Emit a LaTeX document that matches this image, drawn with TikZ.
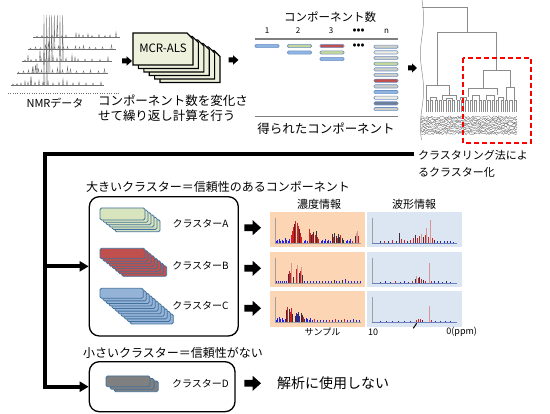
\documentclass[tikz,border=0pt]{standalone}
\usepackage{fontspec}
\setmainfont{Noto Sans CJK JP}
\usetikzlibrary{arrows.meta}
\definecolor{nmrgray}{HTML}{6F6F6F}
\definecolor{dendgray}{HTML}{8C8C8C}
\definecolor{scribgray}{HTML}{666666}
\definecolor{mcrfill}{HTML}{EEF2DC}
\definecolor{rulegray}{HTML}{7F7F7F}
\definecolor{barborder}{HTML}{6E91C4}
\definecolor{bblue}{HTML}{8DB4E2}
\definecolor{bgreen}{HTML}{C3D69B}
\definecolor{bred}{HTML}{C0504D}
\definecolor{bcream}{HTML}{EEECE1}
\definecolor{bgray}{HTML}{D0D0C8}
\definecolor{bslate}{HTML}{6F7F95}
\definecolor{cardborder}{HTML}{41719C}
\definecolor{cardA}{HTML}{D7E4BD}
\definecolor{cardB}{HTML}{C0504D}
\definecolor{cardC}{HTML}{95B3D7}
\definecolor{cardD}{HTML}{808080}
\definecolor{panelO}{HTML}{FCD5B5}
\definecolor{panelB}{HTML}{DCE6F2}
\definecolor{cr}{HTML}{D02020}
\definecolor{ck}{HTML}{3A2F3A}
\definecolor{cb}{HTML}{2020E0}
\definecolor{cp}{HTML}{D99594}
\definecolor{axisgray}{HTML}{A0A0A0}
\definecolor{baseblue}{HTML}{6C7FBF}
\definecolor{selred}{HTML}{FF0000}

\tikzset{
  txt/.style={inner sep=0pt, outer sep=0pt},
  nmr/.style={draw=nmrgray, line width=0.35pt},
  dend/.style={draw=dendgray, line width=0.5pt},
  scrib/.style={draw=scribgray, line width=0.3pt},
  compbar/.style={rounded corners=1.2pt, draw=barborder, line width=0.6pt},
  card/.style={rounded corners=1.5pt, draw=cardborder, line width=0.8pt},
  mcrcard/.style={fill=mcrfill, draw=black, line width=1.1pt},
  rulelinestyle/.style={draw=rulegray, line width=1.5pt},
  trunk/.style={line width=4pt, line join=miter},
  trunkarrow/.style={trunk, -{Triangle[length=9pt,width=10pt]}},
  roundbox/.style={draw, rounded corners=10pt, line width=1.3pt, inner sep=0pt},
  seldash/.style={draw=selred, line width=1.5pt, dash pattern=on 5pt off 3pt},
  panelaxis/.style={draw=axisgray, line width=0.5pt},
}

% block arrow: x, ycenter, stem length, stem half height, head length, head half height
\newcommand\blockarrow[6]{%
  \fill (#1,{#2-#4}) -- ({#1+#3},{#2-#4}) -- ({#1+#3},{#2-#6}) -- ({#1+#3+#5},#2)
        -- ({#1+#3},{#2+#6}) -- ({#1+#3},{#2+#4}) -- (#1,{#2+#4}) -- cycle;}
% nmr trace: x0, y0, length, peaks
\newcommand\nmrtrace[4]{%
  \draw[nmr] (#1,#2) -- ({#1+#3},#2);
  \foreach \p/\h in {#4} {\draw[nmr] ({#1+\p-0.7},#2) -- ({#1+\p},{#2-\h}) -- ({#1+\p+0.7},#2);}}
% component bar
\newcommand\cbar[3]{\draw[compbar, fill=#3] (#1,{#2-1.6}) rectangle ({#1+24},{#2+1.6});}
% card stack: x, y, w, h, last index, dx, dy, fill
\newcommand\cardstack[8]{%
  \foreach \k in {#5,...,0} {\draw[card, fill=#8] ({#1+\k*#6},{#2+\k*#7}) rectangle ++(#3,#4);}}
% chart bars: baseline, list
\newcommand\chartbars[2]{%
  \foreach \bx/\bh/\bc in {#2} {\fill[\bc] ({\bx-0.5},#1) rectangle ({\bx+0.5},{#1-\bh});}}
% mcr card
\newcommand\mcrcardshape[2]{\draw[mcrcard] (#1,#2) -- ++(54,0) -- ++(6,6) -- ++(0,26) -- ++(-60,0) -- cycle;}

\begin{document}
\begin{tikzpicture}[x=1pt,y=-1pt]
\useasboundingbox (0,0) rectangle (550,414);

%================ NMR data =================
\nmrtrace{33}{37}{87}{4/1,9/1.5,14/1,19/2,24/3,29/1.5,33/2,43/4,46/3,50/2,55/3,59/1.5,66/2.5,72/1.5,77/2,83/5}
\nmrtrace{27.5}{49}{88.5}{3/1,8/2,13/1.5,18/4,21/6,24/3,27/2,31/3,36/2,40/2.5,48/3,52/2,56/3.5,62/2,68/1.5,75/2,84/4}
\nmrtrace{22}{61}{90}{3/1,9/1.5,14/2,19/3,23/2,27/4,31/5,35/3,39/2,44/3,50/6,53/4,56/2,63/2,70/2,78/1.5,86/4}
\nmrtrace{16.5}{73}{91.5}{2/1,7/2,12/3,16/5,19/8,22/4,25/3,30/2,36/3,41/5,46/3,51/6,54/4,60/2,67/2,74/3,82/2,88/4}
\nmrtrace{11}{85}{93}{2/1,6/1.5,10/2,14/4,17/3,20/6,24/3,28/5,32/3,37/4,42/2,48/3,52/6,56/4,62/2,68/3,75/2,82/2,90/3}
\foreach \tx/\ty in {44/85,46.7/85,49.3/73,51.7/61,54.3/49,57.3/37,60/73,62.7/61}
  {\draw[nmr] ({\tx-0.6},\ty) -- (\tx,15) -- ({\tx+0.6},\ty);}
\foreach \tx/\ty/\th in {31/85/9,37/73/10,40/61/11,33/73/7,28/61/6}
  {\draw[nmr] ({\tx-0.6},\ty) -- (\tx,{\ty-\th}) -- ({\tx+0.6},\ty);}
\draw[nmr, dotted] (8,93) -- (120,93);
\node[txt, font=\fontsize{11}{13}\selectfont] (nmrlabel) at (55,103) {NMRデータ};

\blockarrow{122}{61}{4.5}{2.5}{5.5}{4.8}

%================ MCR-ALS =================
\foreach \k in {5,...,0} {\mcrcardshape{133+5.4*\k}{33+3.5*\k}}
\node[txt, font=\fontsize{11.5}{13}\selectfont] (mcr) at (163,48) {MCR-ALS};
\blockarrow{228.5}{60}{4.5}{2.5}{5.5}{4.8}

\node[txt, anchor=west, align=left, font=\fontsize{12.5}{15.5}\selectfont] (iter) at (98,108)
  {コンポーネント数を変化さ\\せて繰り返し計算を行う};

%================ Components table =================
\node[txt, font=\fontsize{11.5}{13}\selectfont] (ncomp) at (330,17) {コンポーネント数};
\node[txt, font=\fontsize{8}{9}\selectfont] (n1) at (267,31) {1};
\node[txt, font=\fontsize{8}{9}\selectfont] (n2) at (298,31) {2};
\node[txt, font=\fontsize{8}{9}\selectfont] (n3) at (331,31) {3};
\node[txt, font=\fontsize{10}{11}\selectfont\bfseries] (ndots) at (358.5,31) {•••};
\node[txt, font=\fontsize{8}{9}\selectfont] (nn) at (386.5,31) {n};
\draw[rulelinestyle] (255,39) -- (398,39);
\cbar{255}{46}{bblue}
\cbar{287.5}{46}{bgreen}
\cbar{287.5}{52.5}{bblue}
\cbar{320}{46}{bred}
\cbar{320}{52.5}{bgreen}
\cbar{320}{59}{bblue}
\node[txt, font=\fontsize{10}{11}\selectfont\bfseries] (bdots) at (358.5,46) {•••};
\foreach \c [count=\i from 0] in {bgray,bcream,bgray,bgreen,bgray,bgray,bred,bgray,bblue,bcream,bslate,bgray}
  {\cbar{374}{46.7+5.67*\i}{\c}}
\draw[rulelinestyle] (255,116.5) -- (398,116.5);
\node[txt, font=\fontsize{12.5}{14}\selectfont] (obtained) at (326,128.5) {得られたコンポーネント};

\blockarrow{408}{68}{4}{2.5}{5}{4.6}

%================ Dendrogram =================
\draw[dend] plot[domain=0:140, samples=80, smooth] ({422+1.6*sin(\x*5)}, \x);
\draw[dend] (422,7) -- (467,7) -- (467,32);
\draw[dend] (437,85) -- (437,32) -- (496,32) -- (496,70);
\draw[dend] (426,100) -- (426,85) -- (449,85) -- (449,95);
\draw[dend] (442,100) -- (442,95) -- (456,95) -- (456,100);
\draw[dend] (483,88) -- (483,70) -- (510,70) -- (510,87);
\draw[dend] (468,97) -- (468,88) -- (497,88) -- (497,95);
\draw[dend] (506,100) -- (506,87) -- (514,87) -- (514,100);
\draw[dend] (472,100) -- (472,95) -- (479,95) -- (479,100);
\draw[dend] (486,100) -- (486,95) -- (494,95) -- (494,100);
\draw[dend] (430,100) -- (430,97) -- (436,97) -- (436,100);
\draw[dend] (446,100) -- (446,98) -- (452,98) -- (452,100);
\draw[dend] (460,100) -- (460,97) -- (466,97) -- (466,100);
\draw[dend] (498,100) -- (498,97) -- (503,97) -- (503,100);
\foreach \i in {0,...,41} {\draw[dend] ({426+2.2*\i},100) -- ({426+2.2*\i},112);}
\foreach \i in {0,2,...,40} {\draw[dend] ({426+2.2*\i},100) -- ({428.2+2.2*\i},100);}
\pgfmathsetseed{7}
\foreach \k in {0,...,11} {\draw[scrib] plot[domain=421:517, samples=80] (\x, {117+1.5*\k+1.2*rand});}
\draw[seldash] (463,58) rectangle (531,143);
\node[txt, anchor=west, align=left, font=\fontsize{11}{17}\selectfont] (clustering) at (418,163.5)
  {クラスタリング法によ\\るクラスター化};

%================ Trunk connector =================
\node[roundbox, minimum width=149pt, minimum height=139.3pt] (bigbox) at (163.8,266.35) {};
\node[roundbox, minimum width=145.7pt, minimum height=50pt] (smallbox) at (162.15,386.7) {};
\coordinate (trunkend) at (414,154);
\coordinate (trunkcorner) at (45,154);
\draw[trunkarrow] (trunkend) -- (trunkcorner) |- (smallbox.west);
\draw[trunkarrow] (bigbox.west -| trunkcorner) -- (bigbox.west);

%================ Large clusters =================
\node[txt, anchor=west, font=\fontsize{12}{14}\selectfont] (bigtitle) at (86,186.5)
  {大きいクラスター＝信頼性のあるコンポーネント};
\cardstack{100}{208}{45}{12}{5}{3}{2.35}{cardA}
\cardstack{100}{248.3}{45}{10.5}{7}{3.1}{2.5}{cardB}
\cardstack{100}{288.3}{43.3}{10}{10}{3}{2.57}{cardC}
\node[txt, font=\fontsize{10}{12}\selectfont] (clA) at (200.5,223.3) {クラスターA};
\node[txt, font=\fontsize{10}{12}\selectfont] (clB) at (200.5,265.7) {クラスターB};
\node[txt, font=\fontsize{10}{12}\selectfont] (clC) at (200.5,305.7) {クラスターC};
\blockarrow{244.3}{227.7}{8.4}{3.4}{8.3}{7.5}
\blockarrow{244.3}{268.3}{8.4}{3.4}{8.3}{7.5}
\blockarrow{244.3}{308.3}{8.4}{3.4}{8.3}{7.5}

%================ Charts =================
\node[txt, font=\fontsize{11}{13}\selectfont] (conc) at (319,204) {濃度情報};
\node[txt, font=\fontsize{11}{13}\selectfont] (wave) at (414,204) {波形情報};
\foreach \ty/\by in {212/243,252/283,291.5/322} {
  \fill[panelO] (270,\ty) rectangle (364.5,{\ty+35.5});
  \fill[panelB] (367,\ty) rectangle (461.5,{\ty+35.5});
  \draw[panelaxis] (275.5,{\ty+6}) -- (275.5,\by) -- (361,\by);
  \draw[panelaxis] (372,{\ty+6}) -- (372,\by);
  \draw[draw=baseblue, line width=0.5pt] (372,\by) -- (457,\by);
}
\chartbars{243}{276/2/cb,277.5/3/cb,279/4/cb,280.5/2/cb,282/3/cb,283.5/2/cb,285/5/cb,286.5/3/cb,288/2/cb,289.5/4/cb,291/8/cr,292.2/12/cr,293.4/16/cr,294.6/19/ck,295.8/22/cr,297/20/cr,298.2/17/cr,299.4/14/ck,300.6/10/cr,301.8/6/cr,304/2/cb,305.5/3/cb,307/2/cb,309/14/cr,310.2/10/cr,311.4/8/ck,312.6/9/cr,313.8/11/ck,315/8/cr,316.2/12/ck,317.4/6/cr,318.6/4/cr,321/2/cb,322.5/3/cb,324/2/cb,325.5/4/cb,327/2/cb,328.5/3/cb,330/2/cb,332.5/9/ck,333.7/6/cr,334.9/10/ck,336.1/7/ck,337.3/5/cr,338.5/9/ck,339.7/6/ck,340.9/8/cr,342.1/5/ck,343.3/3/ck,346/2/cb,347.5/3/cb,349/2/cb,350.5/4/cb,352/2/cr,355/7/ck,356.2/10/cp,357.4/12/cp,358.6/7/cr}
\chartbars{243}{380/1.5/ck,384/2/cr,388/1.5/ck,392/3/cr,396/2/ck,399.7/10/ck,401/4/cr,404/3/cr,407/2/ck,410/3/cr,413/5/cr,415/8/ck,417/5/cr,419/7/cr,421/9/cp,423/6/ck,425/8/cr,426.5/15/cp,428/6/cr,430.5/23/cp,432/5/cr,434/3/ck,437/2/cb,440/2/ck,444/2/cb,447/1.5/ck,450/1.5/cb,453/1/cb}
\chartbars{283}{276/1.5/cb,278/2/cb,280/1.5/cb,282/2/cb,284/1.5/cb,286/2/cb,288/9/ck,289.2/12/cr,290.4/10/cr,291.6/20/cp,293/6/ck,296.6/14/cr,297.8/18/cp,299/10/ck,300.2/12/cr,301.4/16/cp,302.6/8/ck,304/2/cb,307/1.5/cb,310/2/cb,313/1.5/cb,316/2/cb,319/1.5/cb,322/2/ck,325/1.5/cb,328/2/cb,331/2/cb,334/3/ck,336/1.5/cb,339/2/cb,342/3/ck,345/4/cb,348/2/cb,351/1.5/cb,354/2/cb,357/1.5/cb,360/1.5/cb}
\chartbars{283}{380/1/ck,385/1.5/cb,390/1/ck,395/1.5/cr,400/1/ck,404/1.5/cb,408/1/ck,412/2/cr,415/4/ck,416.5/7/cp,418/5/cr,419.5/6/ck,421/4/cr,423/3/ck,425/2/cr,429/20/cp,431/2/cr,434/1.5/cb,438/1.5/ck,442/1/cb,446/1.5/ck,450/1/cb}
\chartbars{322}{276/2/cb,277.5/4/cb,279/5/cb,280.5/3/cb,282/4/cb,283.5/2/cb,285/3/cb,286.7/12/ck,287.9/15/cr,289.1/13/ck,290.3/10/cr,291.5/14/cr,292.7/8/ck,295/6/ck,296.2/9/cb,297.4/8/ck,298.6/10/ck,299.8/6/cb,301/9/ck,302.2/7/ck,303.4/5/cr,304.6/3/ck,306/4/cb,307.5/3/cb,309/2/cb,310.5/4/cb,312/2/cb,314/3/cr,317/1.5/cb,320/2/cb,323/1.5/cb,326/2/cb,329/1.5/cr,332/2/cb,335/3/cr,338/2/cb,341/1.5/ck,344/3/cr,347/2/cb,350/1.5/cb,353/3/cb,356/1.5/cb,359/2/cb}
\chartbars{322}{380/1/cb,386/1/ck,392/1/cb,398/1/ck,404/1/cb,410/1/ck,416/1.5/cr,418/3/cr,420/3/cr,422/2/ck,429/16/cp,431/2/cr,435/1/cb,440/1/ck,445/1/cb,450/1/cb}
\draw[line width=1pt] (413.3,328.3) -- (416.7,323.3);
\node[txt, font=\fontsize{9}{11}\selectfont] (sample) at (322.5,332) {サンプル};
\node[txt, font=\fontsize{9}{11}\selectfont] (ten) at (373,332) {10};
\node[txt, font=\fontsize{9}{11}\selectfont] (zero) at (461.7,332) {0(ppm)};

%================ Small cluster =================
\node[txt, anchor=west, font=\fontsize{12}{14}\selectfont] (smalltitle) at (83,353.3)
  {小さいクラスター＝信頼性がない};
\cardstack{106}{376}{44}{10.7}{2}{4.1}{2.5}{cardD}
\node[txt, font=\fontsize{10}{12}\selectfont] (clD) at (200.5,383.3) {クラスターD};
\blockarrow{244.3}{383.3}{8.4}{3.4}{8.3}{7.5}
\node[txt, anchor=west, font=\fontsize{14}{16}\selectfont] (notused) at (277,383.3) {解析に使用しない};

\end{tikzpicture}
\end{document}
